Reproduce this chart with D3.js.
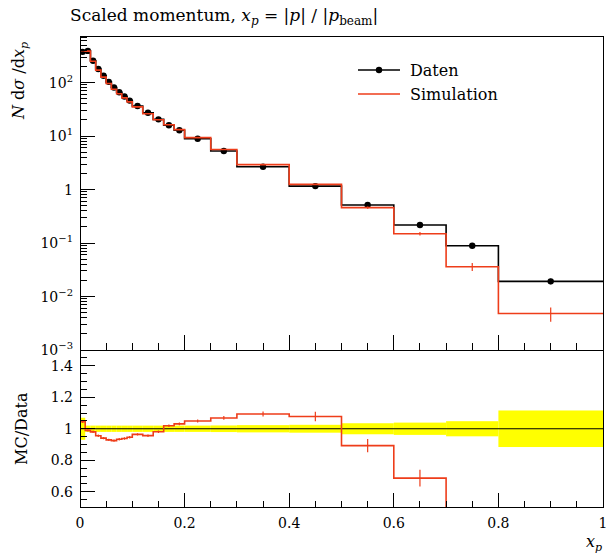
<!DOCTYPE html>
<html>
<head>
<meta charset="utf-8">
<script src="https://cdn.jsdelivr.net/npm/d3@7"></script>
<style>
  body { margin: 0; background: #fff; }
  text { font-family: "DejaVu Serif", "Liberation Serif", serif; fill: #000; }
</style>
</head>
<body>
<div id="chart"></div>
<script>
// bin edges in x_p
var binEdges = [0, 0.01, 0.02, 0.03, 0.04, 0.05, 0.06, 0.07, 0.08, 0.09, 0.10,
                0.12, 0.14, 0.16, 0.18, 0.20, 0.25, 0.30, 0.40, 0.50, 0.60, 0.70, 0.80, 1.0];

// measured data, N dsigma/dx_p
var dataVals = [375, 390, 255, 179, 134, 103, 81, 66, 55, 46,
                36.4, 27.3, 20.5, 15.9, 12.8, 8.9, 5.25, 2.67, 1.16, 0.513, 0.217, 0.089, 0.0192];
// relative uncertainty of data
var dataErr = [0.07, 0.02, 0.02, 0.02, 0.02, 0.02, 0.02, 0.02, 0.02, 0.02,
               0.02, 0.02, 0.02, 0.02, 0.02, 0.02, 0.021, 0.023, 0.025, 0.035, 0.039, 0.048, 0.116];

// simulation
var mcVals = [392, 386, 250, 171, 126, 95.7, 74.9, 61.6, 51.6, 43.5,
              35.1, 26.1, 20.1, 16.2, 13.2, 9.34, 5.61, 2.92, 1.25, 0.458, 0.149, 0.036, 0.0048];
var mcErr = [0.008, 0.008, 0.008, 0.008, 0.008, 0.008, 0.008, 0.008, 0.008, 0.008,
             0.008, 0.008, 0.008, 0.008, 0.008, 0.009, 0.011, 0.015, 0.028, 0.047, 0.077, 0.17, 0.3];

var xTicks = [0, 0.2, 0.4, 0.6, 0.8, 1];
var xTickLabels = ["0", "0.2", "0.4", "0.6", "0.8", "1"];
var yExps = [-3, -2, -1, 0, 1, 2];
var ratioTicks = [0.6, 0.8, 1, 1.2, 1.4];
var ratioTickLabels = ["0.6", "0.8", "1", "1.2", "1.4"];

var W = 607, H = 557;
var padLeft = 80, padRight = 603, padTop = 36, padMid = 350, padBottom = 507.5;
var red = "#ee3d1a";

var bins = dataVals.map(function(d, i){
  return { lo: binEdges[i], hi: binEdges[i + 1], data: d, dErr: dataErr[i], mc: mcVals[i], mErr: mcErr[i] };
});

var x = d3.scaleLinear().domain([0, 1]).range([padLeft, padRight]);
var y = d3.scaleLog().domain([1e-3, Math.pow(10, 2.87)]).range([padMid, padTop]);
var yr = d3.scaleLinear().domain([0.5, 1.5]).range([padBottom, padMid]);

var svg = d3.select("#chart").append("svg")
    .attr("width", W)
    .attr("height", H);

var defs = svg.append("defs");
defs.append("clipPath").attr("id", "clipTop")
  .append("rect").attr("x", padLeft).attr("y", padTop).attr("width", padRight - padLeft).attr("height", padMid - padTop);
defs.append("clipPath").attr("id", "clipRatio")
  .append("rect").attr("x", padLeft).attr("y", padMid).attr("width", padRight - padLeft).attr("height", padBottom - padMid);

function stepPoints(key){
  var pts = [];
  bins.forEach(function(b){
    pts.push([b.lo, b[key]]);
    pts.push([b.hi, b[key]]);
  });
  return pts;
}

// ---- top panel ----
var gTop = svg.append("g").attr("clip-path", "url(#clipTop)");

var lineTop = d3.line()
    .x(function(d){ return x(d[0]); })
    .y(function(d){ return y(d[1]); });

gTop.append("path")
    .attr("d", lineTop(stepPoints("data")))
    .attr("fill", "none")
    .attr("stroke", "#000")
    .attr("stroke-width", 1.6);

gTop.selectAll(".data-err")
    .data(bins)
  .enter().append("line")
    .attr("class", "data-err")
    .attr("x1", function(d){ return x((d.lo + d.hi) / 2); })
    .attr("x2", function(d){ return x((d.lo + d.hi) / 2); })
    .attr("y1", function(d){ return y(d.data * (1 - d.dErr)); })
    .attr("y2", function(d){ return y(d.data * (1 + d.dErr)); })
    .attr("stroke", "#000")
    .attr("stroke-width", 1.2);

gTop.selectAll(".data-pt")
    .data(bins)
  .enter().append("circle")
    .attr("class", "data-pt")
    .attr("cx", function(d){ return x((d.lo + d.hi) / 2); })
    .attr("cy", function(d){ return y(d.data); })
    .attr("r", 3.2)
    .attr("fill", "#000");

gTop.append("path")
    .attr("d", lineTop(stepPoints("mc")))
    .attr("fill", "none")
    .attr("stroke", red)
    .attr("stroke-width", 1.6);

gTop.selectAll(".mc-err")
    .data(bins)
  .enter().append("line")
    .attr("class", "mc-err")
    .attr("x1", function(d){ return x((d.lo + d.hi) / 2); })
    .attr("x2", function(d){ return x((d.lo + d.hi) / 2); })
    .attr("y1", function(d){ return y(d.mc * (1 - d.mErr)); })
    .attr("y2", function(d){ return y(d.mc * (1 + d.mErr)); })
    .attr("stroke", red)
    .attr("stroke-width", 1.2);

// ---- ratio panel ----
var gRat = svg.append("g").attr("clip-path", "url(#clipRatio)");

gRat.selectAll(".band")
    .data(bins)
  .enter().append("rect")
    .attr("class", "band")
    .attr("x", function(d){ return x(d.lo); })
    .attr("width", function(d){ return x(d.hi) - x(d.lo); })
    .attr("y", function(d){ return yr(1 + d.dErr); })
    .attr("height", function(d){ return yr(1 - d.dErr) - yr(1 + d.dErr); })
    .attr("fill", "#ffff00");

gRat.append("line")
    .attr("x1", padLeft).attr("x2", padRight)
    .attr("y1", yr(1)).attr("y2", yr(1))
    .attr("stroke", "#000")
    .attr("stroke-width", 1.2);

var ratioPts = [];
bins.forEach(function(b){
  ratioPts.push([b.lo, b.mc / b.data]);
  ratioPts.push([b.hi, b.mc / b.data]);
});

gRat.append("path")
    .attr("d", d3.line()
      .x(function(d){ return x(d[0]); })
      .y(function(d){ return yr(Math.max(d[1], 0.3)); })(ratioPts))
    .attr("fill", "none")
    .attr("stroke", red)
    .attr("stroke-width", 1.6);

gRat.selectAll(".rat-err")
    .data(bins)
  .enter().append("line")
    .attr("class", "rat-err")
    .attr("x1", function(d){ return x((d.lo + d.hi) / 2); })
    .attr("x2", function(d){ return x((d.lo + d.hi) / 2); })
    .attr("y1", function(d){ return yr(d.mc / d.data * (1 - d.mErr)); })
    .attr("y2", function(d){ return yr(d.mc / d.data * (1 + d.mErr)); })
    .attr("stroke", red)
    .attr("stroke-width", 1.2);

// ---- axes / ticks ----
var gAx = svg.append("g").attr("stroke", "#000").attr("stroke-width", 1).attr("shape-rendering", "crispEdges");

function isMajor(d){ return Math.abs(d * 5 - Math.round(d * 5)) < 1e-6; }

var xMinor = d3.range(0, 1.0001, 0.05);
// x ticks at bottom of both panels
[padMid, padBottom].forEach(function(yy){
  gAx.selectAll(null)
      .data(xMinor)
    .enter().append("line")
      .attr("x1", function(d){ return x(d); })
      .attr("x2", function(d){ return x(d); })
      .attr("y1", yy)
      .attr("y2", function(d){ return yy - (isMajor(d) ? 15 : 7); });
});

// log y ticks
var logTicks = [];
for (var e = -3; e <= 2; e++){
  for (var m = 1; m <= 9; m++){
    var v = m * Math.pow(10, e);
    if (v <= y.domain()[1]) logTicks.push({ v: v, major: m === 1 });
  }
}
gAx.selectAll(null)
    .data(logTicks)
  .enter().append("line")
    .attr("x1", padLeft)
    .attr("x2", function(d){ return padLeft + (d.major ? 15 : 7); })
    .attr("y1", function(d){ return y(d.v); })
    .attr("y2", function(d){ return y(d.v); });

// ratio y ticks
var rMinor = d3.range(0.5, 1.5001, 0.05);
gAx.selectAll(null)
    .data(rMinor)
  .enter().append("line")
    .attr("x1", padLeft)
    .attr("x2", function(d){ return padLeft + (isMajor(d) ? 15 : 7); })
    .attr("y1", function(d){ return yr(d); })
    .attr("y2", function(d){ return yr(d); });

// frames
gAx.append("rect")
    .attr("x", padLeft).attr("y", padTop).attr("width", padRight - padLeft).attr("height", padMid - padTop)
    .attr("fill", "none");
gAx.append("rect")
    .attr("x", padLeft).attr("y", padMid).attr("width", padRight - padLeft).attr("height", padBottom - padMid)
    .attr("fill", "none");

// tick labels
var fs = 14;
svg.selectAll(".xlab")
    .data(xTicks)
  .enter().append("text")
    .attr("class", "xlab")
    .attr("x", function(d){ return x(d); })
    .attr("y", 528)
    .attr("text-anchor", "middle")
    .style("font-size", fs + "px")
    .text(function(d, i){ return xTickLabels[i]; });

var ylab = svg.selectAll(".ylab")
    .data(yExps)
  .enter().append("text")
    .attr("class", "ylab")
    .attr("x", 73)
    .attr("y", function(d){ return y(Math.pow(10, d)) + 5; })
    .attr("text-anchor", "end")
    .style("font-size", fs + "px");
ylab.each(function(d){
  var t = d3.select(this);
  if (d === 0){ t.text("1"); return; }
  t.append("tspan").text("10");
  t.append("tspan").attr("dy", -6).style("font-size", "10px").text(d < 0 ? "\u2212" + (-d) : d);
});

svg.selectAll(".rlab")
    .data(ratioTicks)
  .enter().append("text")
    .attr("class", "rlab")
    .attr("x", 73)
    .attr("y", function(d){ return yr(d) + 5; })
    .attr("text-anchor", "end")
    .style("font-size", fs + "px")
    .text(function(d, i){ return ratioTickLabels[i]; });

// title
var title = svg.append("text")
    .attr("x", 70)
    .attr("y", 21)
    .style("font-size", "17px");
title.append("tspan").text("Scaled momentum, ");
title.append("tspan").style("font-style", "italic").text("x");
title.append("tspan").style("font-style", "italic").style("font-size", "12px").attr("dy", 4).text("p");
title.append("tspan").attr("dy", -4).text(" = |");
title.append("tspan").style("font-style", "italic").text("p");
title.append("tspan").text("| / |");
title.append("tspan").style("font-style", "italic").text("p");
title.append("tspan").style("font-size", "12px").attr("dy", 4).text("beam");
title.append("tspan").attr("dy", -4).text("|");

// y axis titles
var yt = svg.append("text")
    .attr("transform", "translate(24,42) rotate(-90)")
    .attr("text-anchor", "end")
    .style("font-size", "16px");
yt.append("tspan").style("font-style", "italic").text("N");
yt.append("tspan").text(" d");
yt.append("tspan").style("font-style", "italic").text("\u03c3");
yt.append("tspan").text(" /d");
yt.append("tspan").style("font-style", "italic").text("x");
yt.append("tspan").style("font-style", "italic").style("font-size", "11px").attr("dy", 4).text("p");

svg.append("text")
    .attr("transform", "translate(27," + yr(1) + ") rotate(-90)")
    .attr("text-anchor", "middle")
    .style("font-size", "16px")
    .text("MC/Data");

var xt = svg.append("text")
    .attr("x", 602)
    .attr("y", 547)
    .attr("text-anchor", "end")
    .style("font-size", "16px");
xt.append("tspan").style("font-style", "italic").text("x");
xt.append("tspan").style("font-style", "italic").style("font-size", "11px").attr("dy", 4).text("p");

// legend
var leg = svg.append("g").attr("transform", "translate(358,70)");
leg.append("line").attr("x1", 0).attr("x2", 42).attr("y1", 0).attr("y2", 0)
    .attr("stroke", "#000").attr("stroke-width", 1.6);
leg.append("circle").attr("cx", 21).attr("cy", 0).attr("r", 3.2).attr("fill", "#000");
leg.append("text").attr("x", 52).attr("y", 6).style("font-size", "16px").text("Daten");
leg.append("line").attr("x1", 0).attr("x2", 42).attr("y1", 24).attr("y2", 24)
    .attr("stroke", red).attr("stroke-width", 1.6);
leg.append("text").attr("x", 52).attr("y", 30).style("font-size", "16px").text("Simulation");
</script>
</body>
</html>
